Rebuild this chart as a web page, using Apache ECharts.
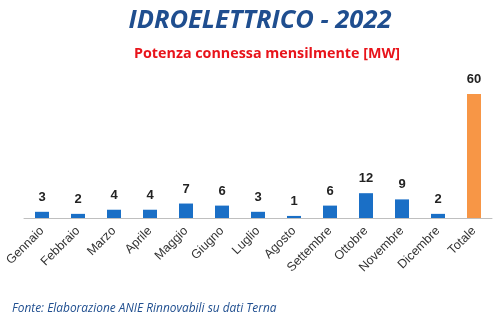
<!DOCTYPE html>
<html><head><meta charset="utf-8">
<script src="https://cdn.jsdelivr.net/npm/echarts@6/dist/echarts.min.js"></script>
<style>html,body{margin:0;padding:0;background:#fff}#c{width:503px;height:322px}</style>
</head><body><div id="c"></div>
<script>
var categories = ["Gennaio","Febbraio","Marzo","Aprile","Maggio","Giugno","Luglio","Agosto","Settembre","Ottobre","Novembre","Dicembre","Totale"];
var values = [3,2,4,4,7,6,3,1,6,12,9,2,60];
var chart = echarts.init(document.getElementById('c'));
chart.setOption({
  animation:false,
  title:[
    {text:"IDROELETTRICO - 2022", left:255, top:3, textAlign:'center', textStyle:{fontFamily:'Open Sans',fontStyle:'italic',fontWeight:'bold',fontSize:25.5,color:'#1F4E8F'}},
    {text:"Potenza connessa mensilmente [MW]", left:262, top:42, textAlign:'center', textStyle:{fontFamily:'Open Sans',fontWeight:'bold',fontSize:14.3,color:'#E8141B'}},
    {text:"Fonte: Elaborazione ANIE Rinnovabili su dati Terna", left:7, top:298, textStyle:{fontFamily:'Open Sans',fontStyle:'italic',fontWeight:'normal',fontSize:11.9,color:'#1F4E8F'}}
  ],
  grid:{left:24,right:11,top:94,bottom:104},
  xAxis:{type:'category',data:categories,
    axisLine:{lineStyle:{color:'#bfbfbf',width:1}},axisTick:{show:false},
    axisLabel:{rotate:45,interval:0,fontFamily:'Liberation Sans',fontSize:12.5,color:'#333',margin:11}},
  yAxis:{type:'value',min:0,max:60,show:false,splitLine:{show:false}},
  series:[{type:'bar',barWidth:14,
    data:values.map(function(v,i){return {value:v,itemStyle:{color:i===values.length-1?'#F79646':'#1A6FC6'}};}),
    label:{show:true,position:'top',distance:8,fontFamily:'Liberation Sans',fontWeight:'bold',fontSize:13,color:'#222'}}]
});
</script></body></html>
